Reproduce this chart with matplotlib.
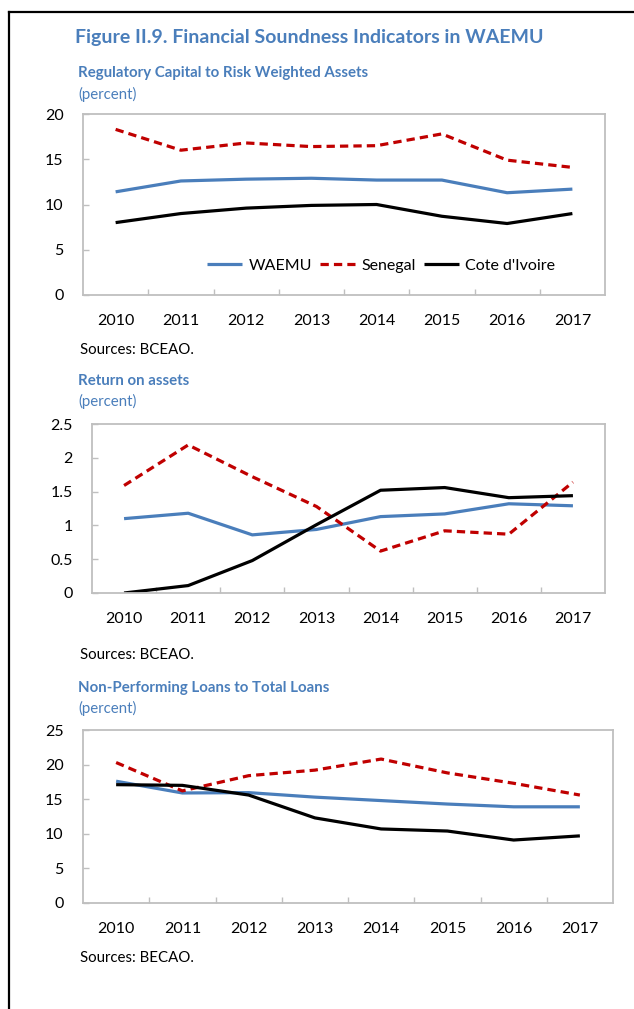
import matplotlib
matplotlib.use("Agg")
import matplotlib.pyplot as plt
from matplotlib.lines import Line2D

plt.rcParams['font.family'] = ['Lato', 'DejaVu Sans']

years = ['2010', '2011', '2012', '2013', '2014', '2015', '2016', '2017']

# Regulatory capital to risk weighted assets (percent)
car_waemu = [11.4, 12.6, 12.8, 12.9, 12.7, 12.7, 11.3, 11.7]
car_senegal = [18.3, 16.0, 16.8, 16.4, 16.5, 17.8, 14.9, 14.1]
car_civ = [8.0, 9.0, 9.6, 9.9, 10.0, 8.7, 7.9, 9.0]

# Return on assets (percent)
roa_waemu = [1.10, 1.18, 0.86, 0.94, 1.13, 1.17, 1.32, 1.29]
roa_senegal = [1.59, 2.19, 1.72, 1.28, 0.62, 0.92, 0.87, 1.64]
roa_civ = [0.0, 0.11, 0.48, 1.01, 1.52, 1.56, 1.41, 1.44]

# Non-performing loans to total loans (percent)
npl_waemu = [17.6, 15.9, 15.95, 15.3, 14.8, 14.3, 13.9, 13.9]
npl_senegal = [20.3, 16.2, 18.4, 19.2, 20.8, 18.8, 17.3, 15.6]
npl_civ = [17.1, 17.0, 15.6, 12.3, 10.7, 10.4, 9.1, 9.7]

W, H = 634, 1009
BLUE = '#4A7EBB'
RED = '#C00000'
GRID = '#BFBFBF'

fig = plt.figure(figsize=(W / 100, H / 100), dpi=100)


def px_axes(left, right, top, bottom):
    return fig.add_axes([left / W, 1 - bottom / H, (right - left) / W, (bottom - top) / H])


def ftext(x, y, s, **kw):
    fig.text(x / W, 1 - y / H, s, va='center', ha='left', **kw)


def panel(ax, waemu, senegal, civ, ymax, ystep, yfmt):
    x = range(len(years))
    ax.plot(x, waemu, color=BLUE, lw=2.3, label='WAEMU', solid_capstyle='butt')
    ax.plot(x, senegal, color=RED, lw=2.3, ls=(0, (2.6, 1.6)), label='Senegal')
    ax.plot(x, civ, color='black', lw=2.3, label="Cote d'Ivoire", solid_capstyle='butt')
    ax.set_xlim(-0.5, len(years) - 0.5)
    ax.set_ylim(0, ymax)
    ax.set_xticks(list(x))
    ax.set_xticklabels(years)
    ax.set_xticks([i + 0.5 for i in range(len(years) - 1)], minor=True)
    ticks = [i * ystep for i in range(int(round(ymax / ystep)) + 1)]
    ax.set_yticks(ticks)
    ax.set_yticklabels([yfmt(t) for t in ticks])
    for s in ax.spines.values():
        s.set_color(GRID)
        s.set_linewidth(1.3)
    ax.tick_params(axis='x', which='major', length=0, pad=14, labelsize=11.5)
    ax.tick_params(axis='x', which='minor', direction='in', length=4, color=GRID, width=1)
    ax.tick_params(axis='y', direction='in', length=4, color=GRID, width=1,
                   pad=14, labelsize=11.5)


fmt_int = lambda v: f'{int(round(v))}'
fmt_half = lambda v: f'{v:g}'

ax1 = px_axes(83, 605, 114, 295)
panel(ax1, car_waemu, car_senegal, car_civ, 20, 5, fmt_int)
ax1.legend(loc='center', bbox_to_anchor=((381 - 83) / 522, (295 - 266) / 181), ncol=3,
           frameon=False, fontsize=11.5, handlelength=2.2, columnspacing=0.5,
           handletextpad=0.4)

ax2 = px_axes(92, 605, 424, 593)
panel(ax2, roa_waemu, roa_senegal, roa_civ, 2.5, 0.5, fmt_half)

ax3 = px_axes(83, 613, 730, 903)
panel(ax3, npl_waemu, npl_senegal, npl_civ, 25, 5, fmt_int)

# titles and notes
ftext(75, 37, 'Figure II.9. Financial Soundness Indicators in WAEMU',
      color=BLUE, fontsize=14, fontweight='bold')
for y_t, y_p, label in [(73, 94, 'Regulatory Capital to Risk Weighted Assets'),
                        (381, 401, 'Return on assets'),
                        (688, 708, 'Non-Performing Loans to Total Loans')]:
    ftext(78, y_t, label, color=BLUE, fontsize=10.8, fontweight='bold')
    ftext(78, y_p, '(percent)', color=BLUE, fontsize=10.8)

ftext(80, 350, 'Sources: BCEAO.', fontsize=10.8)
ftext(80, 655, 'Sources: BCEAO.', fontsize=10.8)
ftext(80, 958, 'Sources: BECAO.', fontsize=10.8)

# page frame on left and top
fig.add_artist(Line2D([9 / W, 9 / W], [0, 1 - 12 / H], transform=fig.transFigure,
                      color='black', lw=1.6))
fig.add_artist(Line2D([9 / W, 1], [1 - 12 / H, 1 - 12 / H], transform=fig.transFigure,
                      color='black', lw=1.6))

fig.savefig('out.png', dpi=100)
